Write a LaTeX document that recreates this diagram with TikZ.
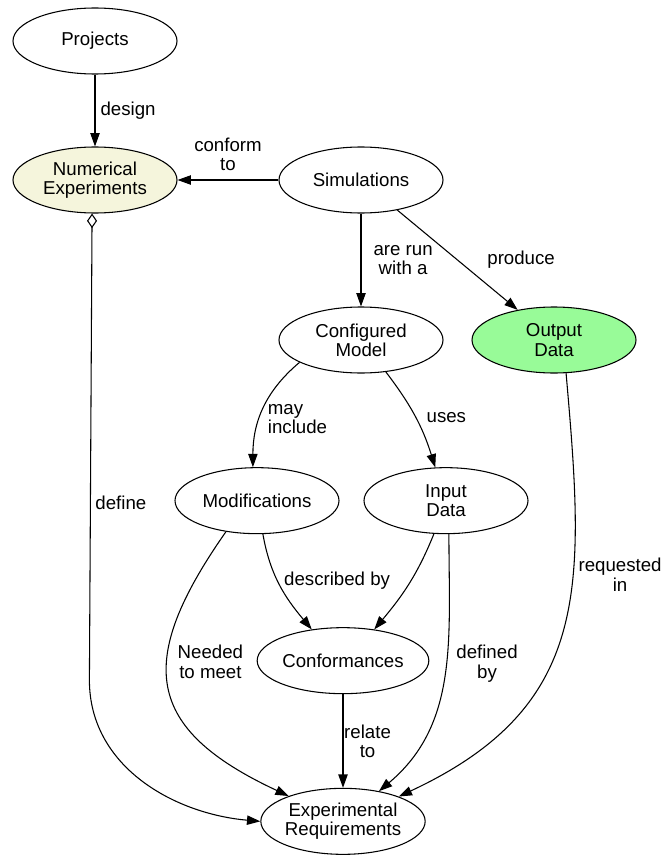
\documentclass[tikz,border=0pt]{standalone}
\usepackage{fontspec}
\setmainfont{Liberation Sans}
\usetikzlibrary{arrows.meta,positioning,shapes.geometric}
\definecolor{expfill}{RGB}{245,245,220}
\definecolor{outfill}{RGB}{152,251,152}

\begin{document}
\begin{tikzpicture}
[->,>={Triangle[length=10pt,width=7pt]},node distance=120.5pt,line width=0.8pt,
 font=\fontsize{14}{14.5}\selectfont]
  \tikzstyle{concept}=[ellipse,draw=black,fill=white,text=black,align=center,
    minimum width=123pt,minimum height=49.5pt,inner sep=0pt]
  \tikzstyle{lbl}=[inner sep=0pt,align=center]
  \useasboundingbox (-71.25pt,30.75pt) rectangle (429.75pt,-611.25pt);

  \node[concept] (P) at (0,0) {Projects};
  \node[concept,fill=expfill] (NE) [node distance=104.25pt,below of=P] {Numerical\\Experiments};
  \node[concept] (S) [node distance=199.5pt,right of=NE] {Simulations};
  \node[concept] (CM) [node distance=120pt,below of=S] {Configured\\Model};
  \node[concept,fill=outfill] (O) [node distance=144.75pt,right of=CM] {Output\\Data};
  \node[concept] (M) [below of=CM,xshift=-78pt] {Modifications};
  \node[concept] (I) [node distance=141.75pt,right of=M] {Input\\Data};
  \node[concept] (C) [node distance=120pt,below of=M,xshift=64.5pt] {Conformances};
  \node[concept] (E) [below of=C] {Experimental\\Requirements};

  \path (P) edge node[lbl,right=3.75pt] {design} (NE)
        (S) edge node[lbl,above=6.5pt] {conform\\to} (NE)
            edge node[lbl,right=9pt] {are run\\with a} (CM)
            edge node[lbl,right=22pt] {produce} (O)
        (CM.200) edge[out=220,in=90] node[lbl,align=left,pos=0.6,right=6pt] {may\\include} (M.97)
        (CM) edge[bend left=10] node[lbl,right=8pt] {uses} (I)
        (M.-80) edge[out=-80,in=130] node[lbl,pos=0.45,right=4.5pt] {described by} (C.135)
        (I.-110) edge[out=-112,in=50] (C.45)
        (M.225) edge[out=235,in=155,looseness=1.5] node[lbl,pos=0.4,right=7.5pt] {Needed\\to meet} (E.155)
        (C) edge node[lbl,right=0.5pt] {relate\\to} (E)
        (I.-85) edge[out=-90,in=40] node[lbl,pos=0.45,right=7.5pt] {defined\\by} (E.40)
        (O.-70) edge[out=-85,in=25,looseness=1.2] node[lbl,pos=0.37,right=4pt] {requested\\in} (E.24);
  % aggregation: experiments define the requirements
  \draw[{Diamond[open,length=11pt,width=7.5pt]}->] (NE.-95) -- node[lbl,pos=0.62,right=3.4pt] {define} ++(-2pt,-350pt)
    to[out=-90,in=175] (E.west);
\end{tikzpicture}
\end{document}
